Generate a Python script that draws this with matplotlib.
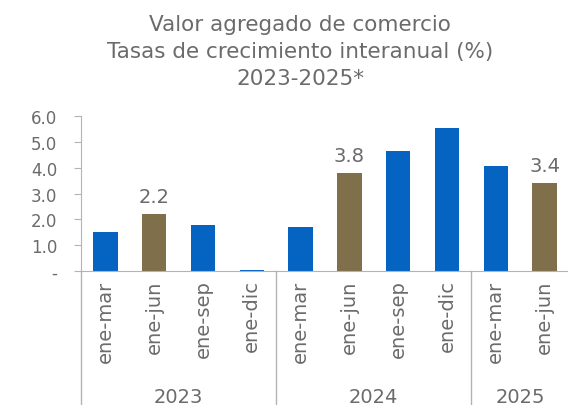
import matplotlib.pyplot as plt
import numpy as np

# data
periods = ['ene-mar', 'ene-jun', 'ene-sep', 'ene-dic',
           'ene-mar', 'ene-jun', 'ene-sep', 'ene-dic',
           'ene-mar', 'ene-jun']
values = [1.5, 2.2, 1.8, 0.05, 1.7, 3.8, 4.63, 5.55, 4.08, 3.4]
years = ['2023', '2024', '2025']
year_sizes = [4, 4, 2]
highlight = [1, 5, 9]   # ene-jun bars with value labels

blue = '#0563C1'
olive = '#7F704B'
gray = '#6b6b6b'
line_gray = '#b3b3b3'

plt.rcParams['font.family'] = ['DejaVu Sans']

fig = plt.figure(figsize=(5.68, 4.06), dpi=100)
ax = fig.add_axes([81/568, 134/406, 488/568, 155/406])

x = np.arange(len(values))
colors = [olive if i in highlight else blue for i in x]
ax.bar(x, values, width=0.5, color=colors, zorder=2)

for i in highlight:
    ax.text(x[i], values[i] + 0.3, '%.1f' % values[i], ha='center', va='bottom',
            fontsize=14, color=gray)

ax.set_xlim(-0.5, len(values) - 0.5)
ax.set_ylim(0, 6)
ax.set_yticks(np.arange(0, 7, 1))
ax.set_yticklabels(['-'] + ['%.1f' % v for v in range(1, 7)])
ax.tick_params(axis='y', length=5, color=line_gray, labelsize=12, labelcolor=gray, pad=12)

ax.set_xticks(x)
ax.set_xticklabels(periods, rotation=90)
ax.tick_params(axis='x', length=0, labelsize=14, labelcolor=gray, pad=6)

for s in ['top', 'right']:
    ax.spines[s].set_visible(False)
ax.spines['left'].set_color(line_gray)
ax.spines['bottom'].set_color(line_gray)

# year groups
trans = ax.get_xaxis_transform()
start = -0.5
for yr, n in zip(years, year_sizes):
    ax.plot([start, start], [0, -0.9], color=line_gray, lw=1, transform=trans, clip_on=False)
    ax.text(start + n / 2, -0.81, yr, ha='center', va='center', fontsize=14,
            color=gray, transform=trans)
    start += n

fig.text(300/568, 1 - 52/406,
         'Valor agregado de comercio\nTasas de crecimiento interanual (%)\n2023-2025*',
         ha='center', va='center', fontsize=15.5, color=gray, linespacing=1.42)

plt.savefig('out.png', dpi=100)
